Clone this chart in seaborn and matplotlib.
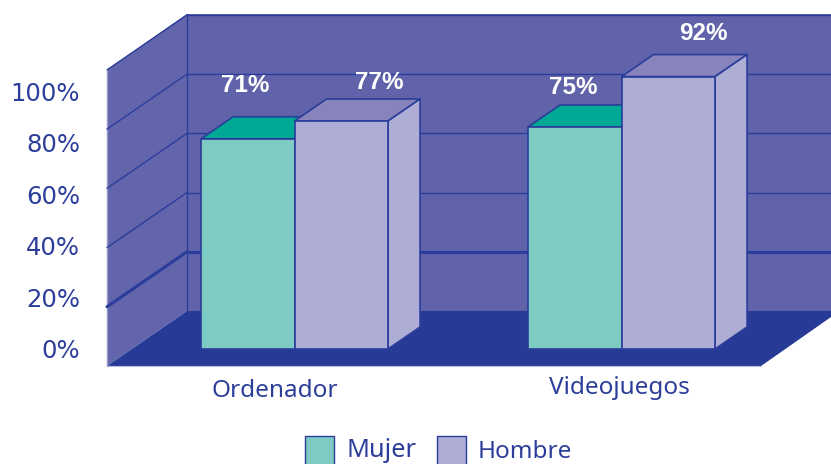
import matplotlib
matplotlib.use("Agg")
import matplotlib.pyplot as plt
import pandas as pd
import seaborn as sns
from matplotlib.patches import Polygon, Rectangle

categorias = ["Ordenador", "Videojuegos"]
mujer = [71, 75]
hombre = [77, 92]
y_ticks = [0, 20, 40, 60, 80, 100]
series = ["Mujer", "Hombre"]

W, H = 831, 464
AZUL = "#2c3e9a"
SUELO = "#273a96"
PARED = "#6063aa"
BORDE = "#2b3d9a"
BASE_PX = 349      # y pixel of 0% on the plane of the bars
PX_POR_PCT = 2.96
PX_POR_CAT = 327
CENTRO_PX = 294.5

df = pd.DataFrame({
    "categoria": categorias * 2,
    "sexo": ["Mujer"] * len(mujer) + ["Hombre"] * len(hombre),
    "pct": mujer + hombre,
})

sns.set_theme(style="white")
plt.rcParams["font.family"] = ["Noto Sans", "DejaVu Sans"]

fig = plt.figure(figsize=((W + 0.1) / 100, (H + 0.1) / 100), dpi=100)
ax = fig.add_axes([0, 0, 1, 1])
sns.barplot(data=df, x="categoria", y="pct", hue="sexo", hue_order=series,
            palette=["#7dcbc3", "#aeadd6"], saturation=1, width=187 / PX_POR_CAT,
            gap=0, edgecolor=BORDE, linewidth=1.2, legend=False, ax=ax)
ax.set_xlim(-CENTRO_PX / PX_POR_CAT, (W - CENTRO_PX) / PX_POR_CAT)
ax.set_ylim((BASE_PX - H) / PX_POR_PCT, BASE_PX / PX_POR_PCT)
ax.axis("off")


def dx(px):
    return px / PX_POR_CAT


def dy(px):
    return px / PX_POR_PCT


def pt(xp, yp):
    # pixel of the picture to data position
    return ((xp - CENTRO_PX) / PX_POR_CAT, (BASE_PX - yp) / PX_POR_PCT)


# back wall, side wall and floor
back_y0 = 311
ax.add_patch(Polygon([pt(187, 14), pt(W, 14), pt(W, back_y0), pt(187, back_y0)],
                     fc=PARED, ec="none", zorder=1))
ax.add_patch(Polygon([pt(107, 366), pt(187, back_y0), pt(187, 14), pt(107, 70)],
                     fc="#6265ab", ec="none", zorder=1))
ax.add_patch(Polygon([pt(107, 366), pt(187, back_y0), pt(W, back_y0), pt(W, 317), pt(761, 366)],
                     fc=SUELO, ec="none", zorder=1.5))
ax.plot(*zip(pt(107, 366.5), pt(761, 366.5)), color="#b9bede", lw=0.8, zorder=1.6)
ax.plot(*zip(pt(107, 366), pt(107, 70)), color="#9497c9", lw=1, zorder=1.6)
ax.plot(*zip(pt(187, back_y0), pt(W, back_y0)), color="#8385bf", lw=0.8, zorder=1.4)
ax.plot(*zip(pt(187, back_y0), pt(187, 14)), color=BORDE, lw=1, zorder=1.6)

# grid lines follow the same percent scale, shifted by the depth of the walls
for t in y_ticks[1:]:
    y_back = back_y0 - t * PX_POR_PCT
    lw = 2.2 if t == 20 else 1.0
    ax.plot(*zip(pt(187, y_back), pt(W, y_back)), color=BORDE, lw=lw, zorder=1.7)
    ax.plot(*zip(pt(187, y_back), pt(107, y_back + 55)), color=BORDE, lw=lw, zorder=1.7)

# depth of each bar
prof_x, prof_y = dx(32), dy(22)
colores_top = ["#00a896", "#8783bb"]
etiquetas = [mujer, hombre]
offset_txt = [[(-3, 53), (-2, 40)], [(38, 39), (35, 43)]]

for s, cont in enumerate(ax.containers):
    for j, bar in enumerate(cont):
        x0, w, h = bar.get_x(), bar.get_width(), bar.get_height()
        x1 = x0 + w
        z = 3 + s * 2
        bar.set_zorder(z + 1)
        ax.add_patch(Polygon([(x0, h), (x1, h), (x1 + prof_x, h + prof_y), (x0 + prof_x, h + prof_y)],
                             fc=colores_top[s], ec=BORDE, lw=1.2, zorder=z, joinstyle="round"))
        ax.add_patch(Polygon([(x1, 0), (x1 + prof_x, prof_y), (x1 + prof_x, h + prof_y), (x1, h)],
                             fc="#aeadd6", ec=BORDE, lw=1.2, zorder=z, joinstyle="round"))
        off_x, off_y = offset_txt[s][j]
        ax.text(x0 + w / 2 + dx(off_x), h + dy(off_y), f"{etiquetas[s][j]}%", color="white",
                fontsize=17.5, fontweight="bold", family="Liberation Sans",
                ha="center", va="center", zorder=10)


def texto(x, y, s, **kw):
    fig.text(x / W, 1 - y / H, s, color=AZUL, va="center", **{"fontsize": 17.5, **kw})


# the printed tick labels do not line up with the grid in the original
for t in y_ticks:
    texto(80, 351 - t * 2.57, f"{t}%", ha="right", family="DejaVu Sans")

texto(274.5, 391, categorias[0], ha="center")
texto(619, 388, categorias[1], ha="center")

fig.add_artist(Rectangle((305 / W, 1 - 466 / H), 29 / W, 30 / H, transform=fig.transFigure,
                         fc="#7dcbc3", ec=BORDE, lw=1))
fig.add_artist(Rectangle((437 / W, 1 - 466 / H), 29 / W, 30 / H, transform=fig.transFigure,
                         fc="#aeadd6", ec=BORDE, lw=1))
texto(346, 450, series[0], ha="left", fontsize=18.2)
texto(478, 452, series[1], ha="left")

fig.savefig("out.png", dpi=100)
